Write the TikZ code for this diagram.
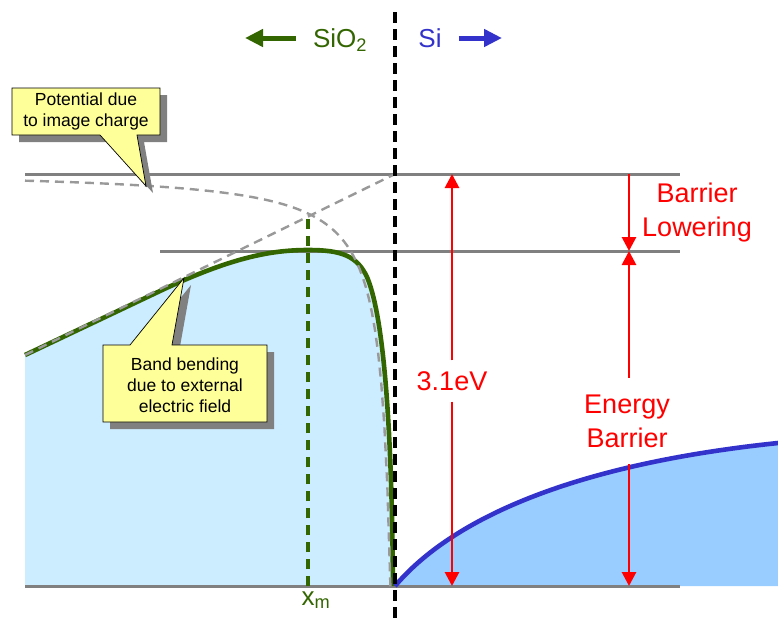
\documentclass[tikz,border=0pt]{standalone}
\usepackage{fontspec}
\setmainfont{Liberation Sans}
\usetikzlibrary{arrows.meta, calc, positioning}
\definecolor{oxgreen}{HTML}{336600}
\definecolor{siblue}{HTML}{3333CC}
\definecolor{oxfill}{HTML}{CCECFF}
\definecolor{sifill}{HTML}{99CCFF}
\definecolor{lvlgray}{HTML}{808080}
\definecolor{dashgray}{HTML}{999999}
\definecolor{noteyellow}{HTML}{FFFF99}
\definecolor{ered}{HTML}{FF0000}
\tikzset{
  lvl/.style={lvlgray, line width=3pt},
  guide/.style={dashgray, line width=2.4pt, dash pattern=on 9pt off 6pt},
  band/.style={line width=4.6pt, line join=round},
  redarr/.style={ered, line width=2.8pt, -{Triangle[length=14pt,width=14pt]}},
  toparr/.style={line width=5pt, -{Triangle[length=18pt,width=17pt]}},
  bigtxt/.style={font=\fontsize{27}{34}\selectfont, align=center, inner sep=2pt},
  toptxt/.style={font=\fontsize{26}{30}\selectfont, inner sep=1pt},
  notetxt/.style={font=\fontsize{17.5}{21}\selectfont, align=center},
  note/.style={fill=noteyellow, draw=black, line width=0.7pt},
  noteshadow/.style={fill=lvlgray, shift={(7,7)}}
}
\begin{document}
\begin{tikzpicture}[x=1pt, y=-1pt]
  \useasboundingbox (0,0) rectangle (778,622);
  % levels and interface
  \coordinate (vac) at (25,174);
  \coordinate (low) at (160,251);
  \coordinate (base) at (25,586);
  \coordinate (ifctop) at (395,12);
  \coordinate (ifcbot) at (395,622);
  % filled bands
  \fill[oxfill] (base) -- (25,355) -- (160,291) .. controls (230,258) and (270,250) .. (308,250)
     .. controls (342,250) and (357,256) .. (367,277) .. controls (386,322) and (392,450) .. (393,586) -- cycle;
  \fill[sifill] (395,586) .. controls (430,545) and (520,470) .. (778,443) -- (778,586) -- cycle;
  \draw[lvl] (vac) -- (680,174);
  \draw[lvl] (low) -- (680,251);
  \draw[lvl] (base) -- (680,586);
  \draw[oxgreen, band] (25,355) -- (160,291) .. controls (230,258) and (270,250) .. (308,250)
     .. controls (342,250) and (357,256) .. (367,277) .. controls (386,322) and (392,450) .. (393,586);
  \draw[siblue, band] (395,586) .. controls (430,545) and (520,470) .. (778,443);
  \draw[oxgreen, line width=3.8pt, dash pattern=on 10pt off 7pt] (308,586) -- (308,215);
  % field line and image charge potential
  \draw[guide] (25,355) -- (395,174);
  \draw[guide] plot[domain=25:390.4, samples=120] (\x, {170+4000/(400-\x)});
  \node[toptxt, oxgreen, anchor=base] (xm) at (316,605) {x\textsubscript{m}};
  % callouts
  \fill[noteshadow] (12,88) -- (160,88) -- (160,135) -- (137,135) -- (146,186) -- (100,135) -- (12,135) -- cycle;
  \filldraw[note] (12,88) -- (160,88) -- (160,135) -- (137,135) -- (146,186) -- (100,135) -- (12,135) -- cycle;
  \node[notetxt] (imgnote) at (86,111) {Potential due\\to image charge};
  \fill[noteshadow] (103,345) -- (130,345) -- (184,278) -- (172,345) -- (267,345) -- (267,422) -- (103,422) -- cycle;
  \filldraw[note] (103,345) -- (130,345) -- (184,278) -- (172,345) -- (267,345) -- (267,422) -- (103,422) -- cycle;
  \node[notetxt] (bendnote) at (185,385) {Band bending\\due to external\\electric field};
  % energies
  \coordinate (evtop) at (452,174);
  \coordinate (evbot) at (452,586);
  \coordinate (bltop) at (629,174);
  \coordinate (blbot) at (629,251);
  \coordinate (ebbot) at (629,586);
  \node[bigtxt, ered, outer sep=9pt] (ev) at (452,381) {3.1eV};
  \draw[redarr] (ev) -- (evtop);
  \draw[redarr] (ev) -- (evbot);
  \node[bigtxt, ered] (bl) at (697,213) {Barrier\\Lowering};
  \draw[redarr] (bltop) -- (blbot);
  \node[bigtxt, ered, outer sep=15pt] (eb) at (627,421) {Energy\\Barrier};
  \draw[redarr] (eb.north -| blbot) -- (blbot);
  \draw[redarr] (eb.south -| ebbot) -- (ebbot);
  % sides
  \node[toptxt, oxgreen, anchor=base] (sio) at (340,47) {SiO\textsubscript{2}};
  \node[toptxt, siblue, anchor=base] (si) at (430,47) {Si};
  \coordinate (oxend) at (245,38);
  \coordinate (siend) at (502,38);
  \draw[toparr, oxgreen] ([xshift=-16pt]sio.west |- oxend) -- (oxend);
  \draw[toparr, siblue] ([xshift=16pt]si.east |- siend) -- (siend);
  \draw[black, line width=4pt, dash pattern=on 11pt off 6pt] (ifctop) -- (ifcbot);
\end{tikzpicture}
\end{document}
